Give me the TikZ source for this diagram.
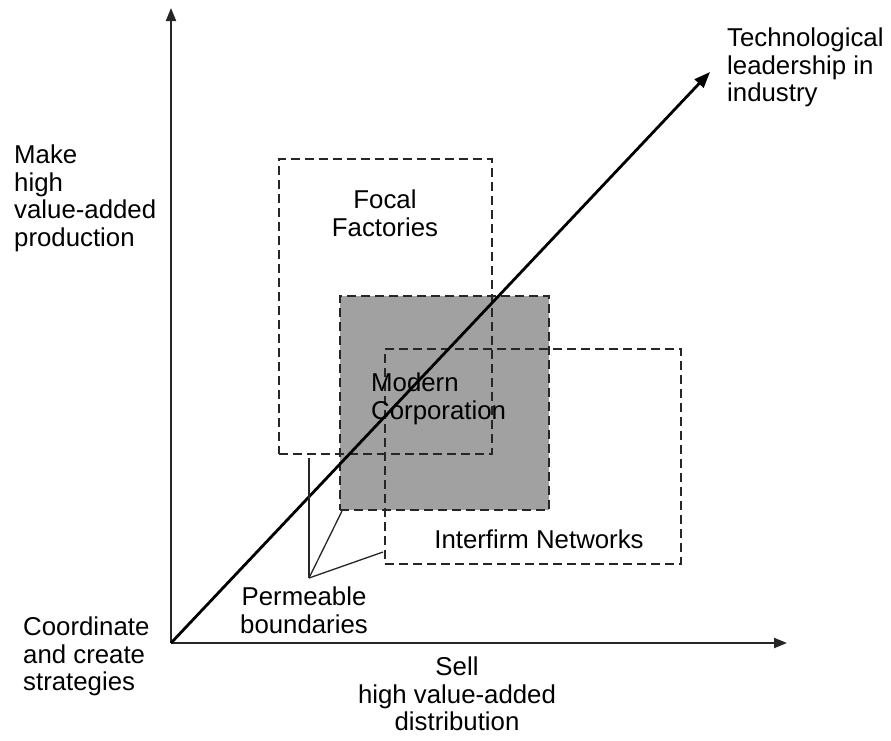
\documentclass[tikz,border=0pt]{standalone}
\usepackage{fontspec}
\setmainfont{Liberation Sans}
\usetikzlibrary{arrows.meta}
\begin{document}
\begin{tikzpicture}[x=1pt,y=-1pt,
  lbl/.style={font=\fontsize{25.8}{27.5}\selectfont, inner sep=0pt, text=black},
  dbox/.style={draw=black!85, line width=1.6pt, dash pattern=on 9pt off 5pt, inner sep=0pt, anchor=north west},
  axisline/.style={line width=2pt, draw=black!85, -{Triangle[length=13pt,width=10pt]}},
  pointer/.style={line width=1.3pt, draw=black!85},
]
\useasboundingbox (0,0) rectangle (891,740);
\coordinate (O) at (171,643);
\coordinate (ytop) at (171,8);
\coordinate (xend) at (787,643);
\coordinate (tech) at (710,72);

% boxes
\node[dbox, fill=black!37, minimum width=209pt, minimum height=214pt] (mc) at (339,295) {};
\node[dbox, minimum width=213pt, minimum height=295pt] (ff) at (278,158) {};
\node[dbox, minimum width=296pt, minimum height=215pt] (inet) at (384,348) {};

% axes
\draw[axisline] (O) -- (ytop);
\draw[axisline] (O) -- (xend);
\draw[line width=2.8pt, -{Triangle[length=16pt,width=12pt]}] (O) -- (tech);

% permeable boundary pointers
\coordinate (pb) at (309,578);
\coordinate (p1) at (309,458);
\coordinate (p2) at (342,511);
\coordinate (p3) at (383,552);
\draw[pointer] (pb) -- (p1);
\draw[pointer] (pb) -- (p2);
\draw[pointer] (pb) -- (p3);

% labels
\node[lbl, anchor=north west, align=left] (tl) at (727,28) {Technological\\leadership in\\industry};
\node[lbl, anchor=north west, align=left] (make) at (14,145) {Make\\high\\value-added\\production};
\node[lbl, anchor=north, align=center] (focal) at (385,190) {Focal\\Factories};
\node[lbl, anchor=north west, align=left] (modern) at (371,373) {Modern\\Corporation};
\node[lbl, anchor=north] (inetl) at (539,530) {Interfirm Networks};
\node[lbl, anchor=north, align=center] (perm) at (304,587) {Permeable\\boundaries};
\node[lbl, anchor=north west, align=left] (coord) at (23,617) {Coordinate\\and create\\strategies};
\node[lbl, anchor=north, align=center] (sell) at (457,657) {Sell\\high value-added\\distribution};
\end{tikzpicture}
\end{document}
